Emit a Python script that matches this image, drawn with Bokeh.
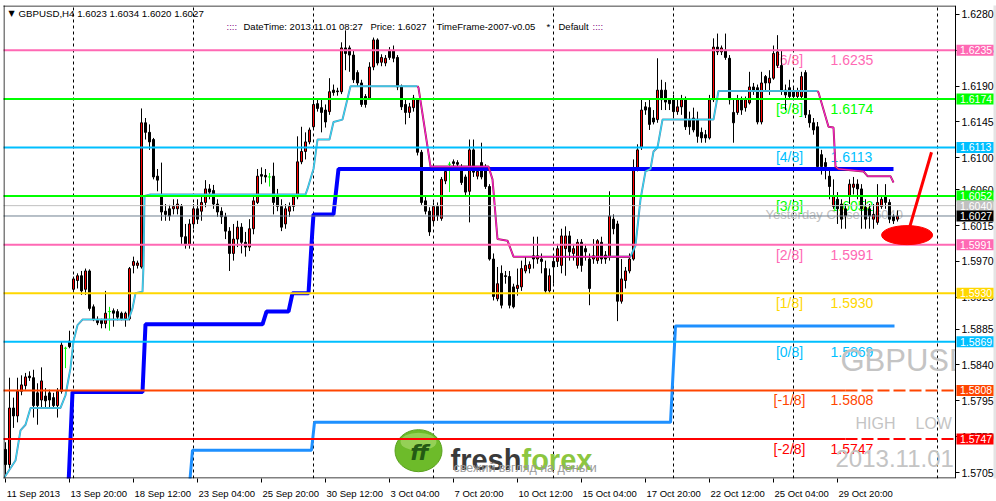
from bokeh.plotting import figure
from bokeh.models import (Range1d, FixedTicker, PrintfTickFormatter, LinearAxis,
                          GlobalInlineStyleSheet)
from bokeh.core.properties import value
from bokeh.embed import file_html
from bokeh.resources import INLINE

# ---------------- data (GBPUSD H4, 11 Sep 2013 - 1 Nov 2013) ----------------
open_ = [
    1.5734, 1.5715, 1.5786, 1.5776, 1.5807, 1.5814, 1.5826, 1.5824, 1.5805, 1.5796,
    1.5801, 1.5805, 1.5799, 1.5789, 1.5807, 1.5861, 1.5870, 1.5935, 1.5946, 1.5952,
    1.5935, 1.5958, 1.5913, 1.5896, 1.5896, 1.5892, 1.5907, 1.5908, 1.5907, 1.5905,
    1.5898, 1.5898, 1.5965, 1.5965, 1.5963, 1.6144, 1.6132, 1.6123, 1.6077, 1.6052,
    1.6033, 1.6036, 1.6036, 1.6036, 1.6039, 1.6001, 1.5991, 1.6017, 1.6036, 1.6033,
    1.6044, 1.6061, 1.6059, 1.6042, 1.6033, 1.6026, 1.6008, 1.5980, 1.5998, 1.6013,
    1.5994, 1.5988, 1.6011, 1.6044, 1.6079, 1.6078, 1.6076, 1.6077, 1.6054, 1.6039,
    1.6017, 1.6033, 1.6039, 1.6051, 1.6095, 1.6108, 1.6120, 1.6139, 1.6168, 1.6163,
    1.6160, 1.6158, 1.6185, 1.6184, 1.6183, 1.6238, 1.6238, 1.6229, 1.6207, 1.6194,
    1.6177, 1.6175, 1.6214, 1.6248, 1.6220, 1.6219, 1.6235, 1.6235, 1.6226, 1.6189,
    1.6167, 1.6157, 1.6163, 1.6173, 1.6107, 1.6046, 1.6033, 1.6021, 1.6039, 1.6024,
    1.6071, 1.6092, 1.6095, 1.6094, 1.6088, 1.6076, 1.6058, 1.6110, 1.6077, 1.6094,
    1.6089, 1.6064, 1.5973, 1.5923, 1.5955, 1.5952, 1.5951, 1.5938, 1.5936, 1.5938,
    1.5958, 1.5961, 1.5977, 1.5973, 1.5973, 1.5961, 1.5933, 1.5970, 1.5970, 1.5965,
    1.5986, 1.6002, 1.5980, 1.5965, 1.5994, 1.5986, 1.5973, 1.5973, 1.5971, 1.5994,
    1.5978, 1.5976, 1.6023, 1.6017, 1.5920, 1.5946, 1.5958, 1.5973, 1.6086, 1.6113,
    1.6164, 1.6163, 1.6150, 1.6148, 1.6185, 1.6185, 1.6173, 1.6173, 1.6158, 1.6164,
    1.6173, 1.6148, 1.6150, 1.6148, 1.6132, 1.6129, 1.6125, 1.6173, 1.6239, 1.6233,
    1.6235, 1.6225, 1.6157, 1.6157, 1.6173, 1.6163, 1.6169, 1.6189, 1.6188, 1.6145,
    1.6202, 1.6194, 1.6200, 1.6216, 1.6216, 1.6185, 1.6188, 1.6183, 1.6177, 1.6177,
    1.6207, 1.6154, 1.6144, 1.6139, 1.6104, 1.6094, 1.6077, 1.6039, 1.6048, 1.6042,
    1.6036, 1.6052, 1.6063, 1.6067, 1.6061, 1.6038, 1.6036, 1.6023, 1.6019, 1.6039,
    1.6051, 1.6044, 1.6026, 1.6023]
high = [
    1.5743, 1.5824, 1.5799, 1.5824, 1.5827, 1.5830, 1.5832, 1.5834, 1.5817, 1.5837,
    1.5811, 1.5809, 1.5805, 1.5811, 1.5870, 1.5863, 1.5883, 1.5951, 1.5955, 1.5958,
    1.5961, 1.5960, 1.5916, 1.5901, 1.5898, 1.5933, 1.5913, 1.5911, 1.5910, 1.5907,
    1.5907, 1.5963, 1.5976, 1.5971, 1.6162, 1.6150, 1.6142, 1.6125, 1.6086, 1.6094,
    1.6042, 1.6041, 1.6048, 1.6048, 1.6042, 1.6017, 1.6023, 1.6042, 1.6048, 1.6051,
    1.6072, 1.6067, 1.6066, 1.6048, 1.6038, 1.6031, 1.6013, 1.6017, 1.6021, 1.6018,
    1.6007, 1.6023, 1.6051, 1.6086, 1.6088, 1.6086, 1.6081, 1.6094, 1.6061, 1.6048,
    1.6042, 1.6044, 1.6054, 1.6127, 1.6139, 1.6132, 1.6138, 1.6177, 1.6173, 1.6173,
    1.6167, 1.6200, 1.6192, 1.6188, 1.6245, 1.6260, 1.6241, 1.6235, 1.6210, 1.6198,
    1.6180, 1.6220, 1.6251, 1.6250, 1.6230, 1.6229, 1.6239, 1.6241, 1.6229, 1.6192,
    1.6173, 1.6169, 1.6179, 1.6175, 1.6110, 1.6051, 1.6038, 1.6044, 1.6044, 1.6076,
    1.6086, 1.6095, 1.6098, 1.6097, 1.6092, 1.6079, 1.6123, 1.6123, 1.6088, 1.6119,
    1.6092, 1.6067, 1.5980, 1.5963, 1.5965, 1.5958, 1.5958, 1.5942, 1.5961, 1.5971,
    1.5976, 1.5970, 1.6001, 1.6001, 1.5980, 1.5971, 1.5961, 1.5976, 1.5992, 1.6011,
    1.6014, 1.6008, 1.5992, 1.5998, 1.5998, 1.5992, 1.5980, 1.5998, 1.5998, 1.6001,
    1.5983, 1.6058, 1.6029, 1.6021, 1.5973, 1.5963, 1.5980, 1.6098, 1.6117, 1.6173,
    1.6170, 1.6173, 1.6160, 1.6225, 1.6198, 1.6195, 1.6175, 1.6179, 1.6173, 1.6179,
    1.6177, 1.6158, 1.6163, 1.6158, 1.6138, 1.6135, 1.6179, 1.6250, 1.6256, 1.6241,
    1.6256, 1.6229, 1.6175, 1.6179, 1.6177, 1.6177, 1.6208, 1.6194, 1.6192, 1.6208,
    1.6204, 1.6210, 1.6241, 1.6254, 1.6235, 1.6192, 1.6198, 1.6188, 1.6188, 1.6208,
    1.6210, 1.6160, 1.6150, 1.6145, 1.6110, 1.6100, 1.6086, 1.6073, 1.6057, 1.6048,
    1.6042, 1.6073, 1.6076, 1.6073, 1.6067, 1.6048, 1.6042, 1.6042, 1.6067, 1.6053,
    1.6067, 1.6048, 1.6029, 1.6034]
low = [
    1.5701, 1.5709, 1.5761, 1.5768, 1.5802, 1.5809, 1.5820, 1.5774, 1.5765, 1.5786,
    1.5786, 1.5786, 1.5786, 1.5774, 1.5804, 1.5836, 1.5861, 1.5930, 1.5936, 1.5928,
    1.5928, 1.5908, 1.5895, 1.5890, 1.5886, 1.5886, 1.5883, 1.5888, 1.5896, 1.5896,
    1.5888, 1.5896, 1.5955, 1.5961, 1.5961, 1.6123, 1.6110, 1.6073, 1.6058, 1.6021,
    1.6021, 1.6021, 1.6029, 1.6029, 1.5992, 1.5986, 1.5986, 1.6011, 1.6017, 1.6021,
    1.6038, 1.6048, 1.6036, 1.6026, 1.6017, 1.5998, 1.5958, 1.5971, 1.5988, 1.5980,
    1.5976, 1.5983, 1.6004, 1.6042, 1.6067, 1.6069, 1.6064, 1.6029, 1.6033, 1.6008,
    1.6011, 1.6026, 1.6033, 1.6048, 1.6092, 1.6098, 1.6117, 1.6135, 1.6158, 1.6132,
    1.6138, 1.6154, 1.6178, 1.6178, 1.6180, 1.6210, 1.6208, 1.6194, 1.6190, 1.6164,
    1.6163, 1.6173, 1.6210, 1.6216, 1.6215, 1.6215, 1.6223, 1.6220, 1.6185, 1.6160,
    1.6142, 1.6150, 1.6158, 1.6103, 1.6041, 1.6029, 1.6002, 1.6016, 1.6021, 1.6021,
    1.6067, 1.6057, 1.6089, 1.6088, 1.6066, 1.6052, 1.6019, 1.6076, 1.6073, 1.6073,
    1.6061, 1.5971, 1.5921, 1.5920, 1.5911, 1.5942, 1.5911, 1.5911, 1.5927, 1.5933,
    1.5955, 1.5955, 1.5961, 1.5967, 1.5955, 1.5930, 1.5930, 1.5942, 1.5963, 1.5955,
    1.5952, 1.5971, 1.5971, 1.5961, 1.5957, 1.5971, 1.5915, 1.5967, 1.5967, 1.5967,
    1.5967, 1.5971, 1.6004, 1.5895, 1.5917, 1.5936, 1.5955, 1.5971, 1.6083, 1.6110,
    1.6154, 1.6135, 1.6142, 1.6144, 1.6160, 1.6160, 1.6160, 1.6150, 1.6154, 1.6154,
    1.6135, 1.6129, 1.6132, 1.6119, 1.6119, 1.6119, 1.6123, 1.6170, 1.6229, 1.6229,
    1.6223, 1.6167, 1.6119, 1.6154, 1.6154, 1.6158, 1.6167, 1.6179, 1.6142, 1.6142,
    1.6185, 1.6179, 1.6198, 1.6213, 1.6179, 1.6160, 1.6173, 1.6173, 1.6173, 1.6173,
    1.6150, 1.6138, 1.6129, 1.6086, 1.6079, 1.6073, 1.6048, 1.6036, 1.6017, 1.6011,
    1.6011, 1.6042, 1.6054, 1.6048, 1.6011, 1.6011, 1.6011, 1.6011, 1.6016, 1.6036,
    1.6036, 1.6018, 1.6017, 1.6020]
close = [
    1.5715, 1.5786, 1.5776, 1.5807, 1.5815, 1.5825, 1.5824, 1.5789, 1.5789, 1.5820,
    1.5795, 1.5796, 1.5789, 1.5807, 1.5865, 1.5861, 1.5863, 1.5948, 1.5952, 1.5933,
    1.5958, 1.5911, 1.5897, 1.5893, 1.5892, 1.5905, 1.5907, 1.5905, 1.5900, 1.5898,
    1.5905, 1.5961, 1.5970, 1.5968, 1.6144, 1.6132, 1.6120, 1.6076, 1.6072, 1.6032,
    1.6029, 1.6027, 1.6039, 1.6042, 1.6001, 1.5991, 1.6017, 1.6036, 1.6023, 1.6044,
    1.6061, 1.6057, 1.6042, 1.6032, 1.6026, 1.6008, 1.5980, 1.5998, 1.6013, 1.5994,
    1.5988, 1.6011, 1.6046, 1.6077, 1.6077, 1.6076, 1.6076, 1.6044, 1.6039, 1.6013,
    1.6036, 1.6039, 1.6051, 1.6095, 1.6108, 1.6120, 1.6135, 1.6167, 1.6162, 1.6157,
    1.6145, 1.6183, 1.6182, 1.6183, 1.6238, 1.6231, 1.6229, 1.6198, 1.6194, 1.6167,
    1.6167, 1.6214, 1.6248, 1.6219, 1.6226, 1.6225, 1.6226, 1.6225, 1.6189, 1.6164,
    1.6157, 1.6164, 1.6175, 1.6107, 1.6044, 1.6033, 1.6007, 1.6039, 1.6027, 1.6073,
    1.6083, 1.6092, 1.6093, 1.6092, 1.6069, 1.6057, 1.6110, 1.6082, 1.6083, 1.6076,
    1.6064, 1.5973, 1.5926, 1.5942, 1.5915, 1.5951, 1.5915, 1.5913, 1.5940, 1.5961,
    1.5965, 1.5966, 1.5973, 1.5977, 1.5970, 1.5933, 1.5952, 1.5963, 1.5986, 1.6002,
    1.6002, 1.5982, 1.5986, 1.5994, 1.5965, 1.5982, 1.5936, 1.5977, 1.5996, 1.5973,
    1.5973, 1.6027, 1.6011, 1.5920, 1.5948, 1.5958, 1.5973, 1.6086, 1.6110, 1.6160,
    1.6160, 1.6142, 1.6145, 1.6185, 1.6173, 1.6170, 1.6168, 1.6158, 1.6164, 1.6173,
    1.6139, 1.6139, 1.6135, 1.6127, 1.6125, 1.6125, 1.6173, 1.6239, 1.6233, 1.6238,
    1.6226, 1.6173, 1.6144, 1.6173, 1.6160, 1.6173, 1.6189, 1.6185, 1.6145, 1.6194,
    1.6194, 1.6200, 1.6231, 1.6233, 1.6185, 1.6179, 1.6177, 1.6177, 1.6183, 1.6202,
    1.6154, 1.6144, 1.6135, 1.6089, 1.6089, 1.6089, 1.6064, 1.6052, 1.6036, 1.6023,
    1.6027, 1.6067, 1.6067, 1.6061, 1.6036, 1.6023, 1.6027, 1.6029, 1.6044, 1.6048,
    1.6044, 1.6023, 1.6021, 1.6027]

time_tick_bars = [0, 16, 32, 48, 64, 80, 96, 112, 128, 144, 160, 176, 192, 208]
time_tick_labels = ["11 Sep 2013", "13 Sep 20:00", "18 Sep 12:00", "23 Sep 04:00",
                    "25 Sep 20:00", "30 Sep 12:00", "3 Oct 04:00", "7 Oct 20:00",
                    "10 Oct 12:00", "15 Oct 04:00", "17 Oct 20:00", "22 Oct 12:00",
                    "25 Oct 04:00", "29 Oct 20:00"]
week_sep_bars = [17, 47, 77, 107, 137, 167, 197, 233]
price_ticks = [1.6280, 1.6235, 1.6190, 1.6145, 1.6100, 1.6060, 1.6015, 1.5970,
               1.5925, 1.5885, 1.5840, 1.5795, 1.5750, 1.5705]

mm_levels = [1.6235, 1.6174, 1.6113, 1.6052, 1.5991, 1.5930, 1.5869, 1.5808, 1.5747]
mm_names = ["[6/8]", "[5/8]", "[4/8]", "[3/8]", "[2/8]", "[1/8]", "[0/8]", "[-1/8]", "[-2/8]"]
mm_colors = ["#FF69B4", "#00FF00", "#00BFFF", "#00FF00", "#FF69B4", "#FFD700",
             "#00BFFF", "#FF4500", "#FF0000"]
yesterday_close = 1.6040
bid_price = 1.6027

# trailing-stop indicator (up = cyan, down = magenta)
trail_up1_x = [-0.25, 2.5, 3.75, 5, 6.25, 13.75, 15, 16.25, 17, 18, 19.25, 30.75, 31.75,
               32.5, 34.25, 34.5, 34.75, 36.25, 75, 75.5, 76.75, 77, 78, 81, 82, 84.25,
               86.25, 103]
trail_up1_y = [1.5699, 1.5720, 1.5758, 1.5765, 1.5786, 1.5786, 1.5802, 1.5836, 1.5870,
               1.5890, 1.5897, 1.5897, 1.5911, 1.5930, 1.5932, 1.5965, 1.6052, 1.6054,
               1.6054, 1.6061, 1.6082, 1.6086, 1.6123, 1.6123, 1.6145, 1.6148, 1.6190,
               1.6190]
trail_dn1_x = [103, 103.25, 105.5, 106.25, 120.75, 121.75, 123, 125.5, 127, 156.25]
trail_dn1_y = [1.6190, 1.6188, 1.6114, 1.6089, 1.6089, 1.6073, 1.5998, 1.5996, 1.5976, 1.5976]
trail_up2_x = [150, 156.25, 157.5, 158.75, 160, 161.25, 162, 163, 164.25, 177, 178.25, 203]
trail_up2_y = [1.5976, 1.5976, 1.5990, 1.6048, 1.6083, 1.6086, 1.6108, 1.6113, 1.6148,
               1.6148, 1.6184, 1.6184]
trail_dn2_x = [203, 203.25, 205.75, 207, 207.5, 208.25, 214.5, 215.5, 221.25, 222]
trail_dn2_y = [1.6184, 1.6182, 1.6139, 1.6138, 1.6089, 1.6086, 1.6083, 1.6077, 1.6077, 1.6069]

# step channel lines
blue_x = [15.75, 16.75, 34.25, 35, 64.25, 65.25, 70.75, 71.75, 75.75, 76.75, 77, 82, 83.25, 222]
blue_y = [1.5690, 1.5806, 1.5806, 1.5891, 1.5891, 1.5907, 1.5907, 1.5930, 1.5930, 1.6011,
          1.6029, 1.6029, 1.6086, 1.6086]
dblue_x = [46, 46.75, 76.5, 77.25, 166.25, 167.5, 222.25]
dblue_y = [1.5689, 1.5733, 1.5733, 1.5768, 1.5768, 1.5889, 1.5889]

# right-scale price tags
tag_prices = [1.6235, 1.6174, 1.6113, 1.6052, 1.6040, 1.6027, 1.5991, 1.5930, 1.5869, 1.5808, 1.5747]
tag_colors = ["#FF69B4", "#00FF00", "#00BFFF", "#00FF00", "#C0C0C0", "#000000",
              "#FF69B4", "#FFD700", "#00BFFF", "#FF4500", "#FF0000"]

# hand-drawn marks (anchor in bar / price)
ellipse_bar, ellipse_price = 225.4, 1.6003
arrow_bar = [225.75, 231.5]
arrow_price = [1.6008, 1.6107]

# ---------------- geometry ----------------
W, H = 996, 501
LEFT, TOP, BOTTOM = 3, 5, 20
PX_PER_BAR = 4.0
X_LO = -0.5
X_HI = X_LO + (W - LEFT) / PX_PER_BAR      # frame spans the full width
CH_END = 237.5                              # right edge of the price chart (x = 955 px)
Y_LO, Y_HI = 1.569749, 1.629123
FRAME_H = H - TOP - BOTTOM


def bx(px):  # screen px -> bar units (annotation placement only)
    return X_LO + (px - LEFT) / PX_PER_BAR


def py(px):  # screen px -> price units (annotation placement only)
    return Y_HI - (px - TOP) * (Y_HI - Y_LO) / FRAME_H


p = figure(width=W, height=H, x_range=Range1d(X_LO, X_HI), y_range=Range1d(Y_LO, Y_HI),
           output_backend="svg", toolbar_location=None, y_axis_location=None,
           min_border_left=LEFT, min_border_top=TOP, min_border_right=0,
           min_border_bottom=BOTTOM, background_fill_color="white",
           border_fill_color="white", outline_line_color=None)
p.stylesheets = [GlobalInlineStyleSheet(css="html,body{margin:0 !important;padding:0;overflow:hidden;}")]
p.xgrid.visible = False
p.ygrid.visible = False

FONT = value("Liberation Sans")

# ---- time axis: tick marks (minor) at bar positions, labels left-aligned to them ----
CHW = {" ": .278, ":": .278, "S": .667, "O": .778, "e": .556, "p": .556, "c": .5, "t": .278}


def text_w(s, size):
    return sum(CHW.get(ch, .556) for ch in s) * size


XLAB = 9.5
label_centers = [round(b + (1 + text_w(t, XLAB) / 2) / PX_PER_BAR, 3)
                 for b, t in zip(time_tick_bars, time_tick_labels)]
p.xaxis.ticker = FixedTicker(ticks=label_centers, minor_ticks=time_tick_bars)
p.xaxis.major_label_overrides = {c: t for c, t in zip(label_centers, time_tick_labels)}
p.xaxis.major_label_text_font = "Liberation Sans"
p.xaxis.major_label_text_font_size = "%spx" % XLAB
p.xaxis.major_label_text_color = "black"
p.xaxis.major_tick_in = 0
p.xaxis.major_tick_out = 0
p.xaxis.minor_tick_in = 0
p.xaxis.minor_tick_out = 4
p.xaxis.minor_tick_line_color = "black"
p.xaxis.major_label_standoff = 5
p.xaxis.axis_line_color = None

# ---- price axis at the right edge of the chart ----
yax = LinearAxis(ticker=FixedTicker(ticks=price_ticks),
                 formatter=PrintfTickFormatter(format="%.4f"),
                 fixed_location=CH_END)
yax.major_label_text_font = "Liberation Sans"
yax.major_label_text_font_size = "10.5px"
yax.major_label_text_color = "black"
yax.major_tick_in = 0
yax.major_tick_out = 4
yax.minor_tick_in = 0
yax.minor_tick_out = 0
yax.major_label_standoff = 2
yax.axis_line_color = "black"
p.add_layout(yax, "right")

# week separators (dashed grid)
p.segment(x0=week_sep_bars, y0=[Y_LO] * len(week_sep_bars), x1=week_sep_bars,
          y1=[Y_HI] * len(week_sep_bars), line_color="black", line_width=1, line_dash="3 3")

# header texts
p.text(x=[bx(8)], y=[py(13)], text=["▼"], text_font=value("DejaVu Sans"),
       text_font_size=value("8px"), text_baseline="middle", text_color="black")
p.text(x=[bx(18)], y=[py(13)], text=["GBPUSD,H4  1.6023 1.6034 1.6020 1.6027"], text_font=FONT,
       text_font_size=value("9.7px"), text_baseline="middle", text_color="black")
hdr_x = [226, 243, 370, 436, 546, 558, 592]
hdr_t = ["::::", "DateTime: 2013.11.01 08:27", "Price: 1.6027", "TimeFrame-2007-v0.05",
         "*", "Default", "::::"]
hdr_c = ["#800080", "black", "black", "black", "black", "black", "#800080"]
p.text(x=[bx(v) for v in hdr_x], y=[py(26)] * len(hdr_x), text=hdr_t, text_color=hdr_c,
       text_font=FONT, text_font_size=value("9.5px"), text_baseline="middle")

# murrey labels (behind candles)
p.text(x=[bx(789)] * len(mm_levels), y=[lv - 0.00125 for lv in mm_levels], text=mm_names,
       text_color=mm_colors, text_font=FONT, text_font_size=value("14px"),
       text_baseline="middle", text_align="center")
p.text(x=[bx(830)] * len(mm_levels), y=[lv - 0.00125 for lv in mm_levels],
       text=["%.4f" % lv for lv in mm_levels], text_color=mm_colors, text_font=FONT,
       text_font_size=value("14px"), text_baseline="middle", text_align="left")
p.text(x=[bx(765)], y=[py(215)], text=["Yesterday Close 1.6040"], text_color="#C0C0C0",
       text_font=FONT, text_font_size=value("13px"), text_baseline="middle")

# watermark
p.text(x=[bx(840)], y=[py(362)], text=["GBPUSD"], text_color="#C4C4C4", text_font=FONT,
       text_font_size=value("31px"), text_baseline="middle")
p.text(x=[bx(855), bx(915)], y=[py(426)] * 2, text=["HIGH", "LOW"], text_color="#C4C4C4",
       text_font=FONT, text_font_size=value("16px"), text_baseline="middle")
p.text(x=[bx(835)], y=[py(461)], text=["2013.11.01"], text_color="#C4C4C4",
       text_font=FONT, text_font_size=value("24px"), text_baseline="middle")

# logo
p.ellipse(x=[bx(418)], y=[py(453)], width=47, height=42, width_units="screen",
          height_units="screen", fill_color="#6DBB2A", line_color="#5AA01F")
p.ellipse(x=[bx(418)], y=[py(444)], width=36, height=18, width_units="screen",
          height_units="screen", fill_color="#B5E27A", fill_alpha=0.55, line_color=None)
p.text(x=[bx(419)], y=[py(455)], text=["ff"], text_color="#235A14",
       text_font=value("DejaVu Sans"), text_font_size=value("22px"), text_font_style="bold italic",
       text_baseline="middle", text_align="center")
p.text(x=[bx(450)], y=[py(462)], text=["fresh"], text_color="#3A3A3A", text_font=FONT,
       text_font_size=value("29px"), text_font_style="bold", text_baseline="alphabetic")
p.text(x=[bx(521)], y=[py(462)], text=["forex"], text_color="#8CC63F", text_font=FONT,
       text_font_size=value("29px"), text_font_style="bold", text_baseline="alphabetic")
p.text(x=[bx(453)], y=[py(470)], text=["свежий взгляд на деньги"], text_color="#9A9A9A",
       text_font=FONT, text_font_size=value("12.5px"), text_baseline="middle")

# candles
n = len(close)
idx = list(range(n))
bull = [i for i in idx if close[i] > open_[i]]
bear = [i for i in idx if close[i] < open_[i]]
doji = [i for i in idx if close[i] == open_[i]]
nd = [i for i in idx if close[i] != open_[i]]
p.segment(x0=nd, y0=[low[i] for i in nd], x1=nd, y1=[high[i] for i in nd],
          line_color="black", line_width=1)
p.vbar(x=bull, width=0.5, top=[close[i] for i in bull], bottom=[open_[i] for i in bull],
       fill_color="#FF0000", line_color="black", line_width=1)
p.vbar(x=bear, width=0.5, top=[open_[i] for i in bear], bottom=[close[i] for i in bear],
       fill_color="black", line_color="black", line_width=1)
p.segment(x0=doji, y0=[low[i] for i in doji], x1=doji, y1=[high[i] for i in doji],
          line_color="#00FF00", line_width=1)
p.segment(x0=[i - 0.4 for i in doji], y0=[close[i] for i in doji],
          x1=[i + 0.4 for i in doji], y1=[close[i] for i in doji],
          line_color="#00FF00", line_width=1)

# step channels
p.line(blue_x, blue_y, line_color="#0000FF", line_width=4)
p.line(dblue_x, dblue_y, line_color="#1E90FF", line_width=3)

# trailing stop
for xs, ys in ((trail_up1_x, trail_up1_y), (trail_up2_x, trail_up2_y)):
    p.line(xs, ys, line_color="#5A8FB5", line_width=2)
    p.line(xs, ys, line_color="#30E0F8", line_width=1)
for xs, ys in ((trail_dn1_x, trail_dn1_y), (trail_dn2_x, trail_dn2_y)):
    p.line(xs, ys, line_color="#A0204A", line_width=2)
    p.line(xs, ys, line_color="#FF20E0", line_width=1)

# murrey math lines (the two lowest break up under the watermark block)
BREAK = bx(845)
mm_end = [CH_END if lv > 1.5850 else BREAK for lv in mm_levels]
p.segment(x0=[X_LO - 1] * len(mm_levels), y0=mm_levels, x1=mm_end,
          y1=mm_levels, line_color=mm_colors, line_width=2)
broken = [i for i, lv in enumerate(mm_levels) if lv < 1.5850]
p.segment(x0=[BREAK] * len(broken), y0=[mm_levels[i] for i in broken],
          x1=[CH_END] * len(broken), y1=[mm_levels[i] for i in broken],
          line_color=[mm_colors[i] for i in broken], line_width=2, line_dash="12 4")
p.segment(x0=[X_LO - 1] * 2, y0=[yesterday_close, bid_price], x1=[CH_END] * 2,
          y1=[yesterday_close, bid_price], line_color=["#C0C0C0", "#708090"], line_width=1)

# hand drawn marks
p.ellipse(x=[ellipse_bar], y=[ellipse_price], width=51, height=19, width_units="screen",
          height_units="screen", fill_color="#FF0000", line_color="#FF0000")
p.line(arrow_bar, arrow_price, line_color="#FF0000", line_width=3)

# price-scale area (right of the chart) is blank white, window edge light grey
p.quad(left=[CH_END + 0.1], right=[X_HI + 1], bottom=[Y_LO - 1], top=[Y_HI + 1],
       fill_color="white", line_color=None)
p.quad(left=[bx(993)], right=[X_HI + 1], bottom=[Y_LO - 1], top=[Y_HI + 1],
       fill_color="#E4E4E4", line_color=None)

# chart border (left, top, bottom; the price axis line is the right border)
p.segment(x0=[bx(3.5), X_LO - 1, X_LO - 1], y0=[Y_LO - 1, py(5.5), py(480.5)],
          x1=[bx(3.5), CH_END, CH_END], y1=[Y_HI + 1, py(5.5), py(480.5)],
          line_color="black", line_width=1)

# price tags on the right scale (drawn above the axis labels)
p.rect(x=[bx(974.5)] * len(tag_prices), y=tag_prices, width=37, height=11,
       width_units="screen", height_units="screen", fill_color=tag_colors,
       line_color=None, level="overlay")
p.text(x=[bx(959.5)] * len(tag_prices), y=tag_prices, text=["%.4f" % v for v in tag_prices],
       text_color="white", text_font=FONT, text_font_size=value("10.5px"),
       text_baseline="middle", text_align="left", level="overlay")

open("out.html", "w").write(file_html(p, INLINE))
